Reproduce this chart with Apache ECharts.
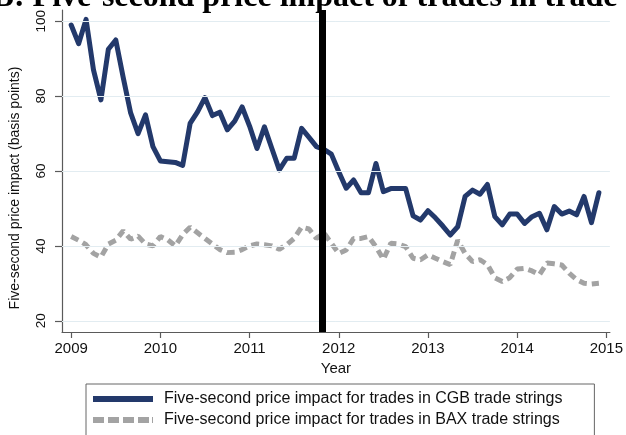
<!DOCTYPE html>
<html>
<head>
<meta charset="utf-8">
<title>Five-second price impact</title>
<script src="https://cdn.jsdelivr.net/npm/echarts@6/dist/echarts.min.js"></script>
<style>
    html, body { margin: 0; padding: 0; background: #fff; }
    #impact { width: 626px; height: 435px; }
</style>
</head>
<body>
<div id="impact"></div>
<script>
'use strict';

// monthly values, Jan 2009 .. Dec 2014 (basis points)
var startYear = 2009;
var cgbImpact = [
    99, 94, 100.5, 87, 79, 92.5, 95, 85, 75.5, 70, 75, 66.5,
    62.7, 62.5, 62.3, 61.5, 72.7, 75.8, 79.6, 74.8, 75.7, 71, 73.3, 77.1,
    72, 66, 71.8, 66, 60.3, 63.4, 63.4, 71.4, 69, 66.5, 65.8, 64.5,
    59.8, 55.4, 57.6, 54.2, 54.2, 62, 54.5, 55.3, 55.3, 55.3, 48, 46.9,
    49.4, 47.5, 45.3, 42.9, 45.1, 53.2, 54.9, 53.8, 56.4, 47.8, 45.6, 48.5,
    48.5, 46, 47.8, 48.7, 44.3, 50.5, 48.5, 49.3, 48.3, 53.2, 46.2, 54.2
];
var baxImpact = [
    42.5, 41.5, 40.3, 38, 37, 40.5, 41.5, 44, 41.8, 42.6, 40.5, 40,
    42.5, 41.6, 40, 43, 45, 43.5, 42, 40.5, 39, 38.2, 38.3, 39,
    40, 40.5, 40.3, 40, 39.1, 40.3, 42, 45, 44.5, 42, 43.5, 40.7,
    38, 38.9, 42, 42, 42.5, 39.8, 36.4, 40.7, 40.5, 39.8, 36.7, 36.3,
    37.6, 36.7, 35.8, 35, 41.5, 38, 35.8, 36.3, 35, 31.5, 30.5, 31.5,
    33.8, 34, 33.3, 32.3, 35.4, 35.2, 34.9, 32.7, 31, 30, 29.8, 30
];
var yTicks = [20, 40, 60, 80, 100];
var xTicks = [2009, 2010, 2011, 2012, 2013, 2014, 2015];
var breakDate = 2011.82;
var seriesNames = [
    'Five-second price impact for trades in CGB trade strings',
    'Five-second price impact for trades in BAX trade strings'
];

var colors = {
    cgb: '#23396b',
    bax: '#a3a3a3',
    axis: '#5a5a5a',
    grid: '#e2ecf1'
};

// legend keys: a solid bar and a dashed bar
var legendIcons = [
    'path://M0,0H60V6H0Z',
    'path://M0,0H11V6H0Z M15,0H26V6H15Z M30,0H41V6H30Z M45,0H56V6H45Z M59,0H60V6H59Z'
];

function toPoints(values) {
    var pts = [];
    for (var i = 0; i < values.length; i++) {
        pts.push([startYear + i / 12, values[i]]);
    }
    return pts;
}

var sans = 'Liberation Sans, Arial, sans-serif';
var myChart = echarts.init(document.getElementById('impact'));
var option = {
    animation: false,
    // the heading is cut off by the top edge, as in the source figure
    title: {
        text: 'Panel B: Five-second price impact of trades in trade strings',
        left: 'center',
        top: -18,
        padding: 0,
        textStyle: {
            fontFamily: 'Liberation Serif, Times New Roman, serif',
            fontWeight: 'bold',
            fontSize: 32,
            color: '#000',
            padding: [0, 16, 0, 0]
        }
    },
    grid: {
        left: 59,
        right: 10,
        top: 10,
        bottom: 103
    },
    legend: {
        orient: 'vertical',
        left: 86,
        top: 384,
        height: 70,
        padding: [7, 32, 8, 7],
        itemGap: 5,
        itemWidth: 60,
        itemHeight: 6,
        borderColor: '#666',
        borderWidth: 1,
        data: [
            { name: seriesNames[0], icon: legendIcons[0] },
            { name: seriesNames[1], icon: legendIcons[1] }
        ],
        textStyle: {
            fontFamily: sans,
            fontSize: 16,
            color: '#111',
            padding: [0, 0, 0, 6]
        }
    },
    xAxis: {
        type: 'value',
        min: 2008.897,
        max: 2015.04,
        name: 'Year',
        nameLocation: 'middle',
        nameGap: 27,
        nameTextStyle: { fontFamily: sans, fontSize: 15, color: '#111' },
        splitLine: { show: false },
        axisLine: { lineStyle: { color: colors.axis, width: 1.2 } },
        axisTick: {
            length: 6,
            customValues: xTicks,
            lineStyle: { color: colors.axis, width: 1.2 }
        },
        axisLabel: {
            margin: 9,
            customValues: xTicks,
            formatter: function (v) { return String(v); },
            fontFamily: sans,
            fontSize: 15,
            color: '#111'
        }
    },
    yAxis: {
        type: 'value',
        min: 17,
        max: 103,
        name: 'Five-second price impact (basis points)',
        nameLocation: 'middle',
        nameGap: 40,
        nameMoveOverlap: false,
        nameTextStyle: {
            fontFamily: sans,
            fontSize: 14,
            color: '#111',
            padding: [0, 34, 0, 0]
        },
        splitLine: { show: false },
        axisLine: { show: true, lineStyle: { color: colors.axis, width: 1.2 } },
        axisTick: {
            length: 7,
            customValues: yTicks,
            lineStyle: { color: colors.axis, width: 1.2 }
        },
        axisLabel: {
            margin: 14,
            rotate: 90,
            align: 'center',
            verticalAlign: 'bottom',
            customValues: yTicks,
            fontFamily: sans,
            fontSize: 13.5,
            color: '#111'
        }
    },
    series: [{
        // horizontal grid lines
        type: 'line',
        data: [],
        silent: true,
        z: 1,
        markLine: {
            silent: true,
            symbol: 'none',
            label: { show: false },
            lineStyle: { color: colors.grid, width: 1, type: 'solid' },
            data: yTicks.map(function (v) { return { yAxis: v }; })
        }
    }, {
        name: seriesNames[0],
        type: 'line',
        data: toPoints(cgbImpact),
        symbol: 'none',
        z: 3,
        itemStyle: { color: colors.cgb },
        lineStyle: { color: colors.cgb, width: 5, join: 'round', cap: 'round' }
    }, {
        name: seriesNames[1],
        type: 'line',
        data: toPoints(baxImpact),
        symbol: 'none',
        z: 2,
        itemStyle: { color: colors.bax },
        lineStyle: { color: colors.bax, width: 5, type: [8, 5], cap: 'butt' }
    }, {
        // vertical marker
        type: 'line',
        data: [],
        silent: true,
        z: 5,
        markLine: {
            silent: true,
            symbol: 'none',
            label: { show: false },
            lineStyle: { color: '#000', width: 7, type: 'solid' },
            data: [{ xAxis: breakDate }]
        }
    }]
};
myChart.setOption(option);
</script>
</body>
</html>
